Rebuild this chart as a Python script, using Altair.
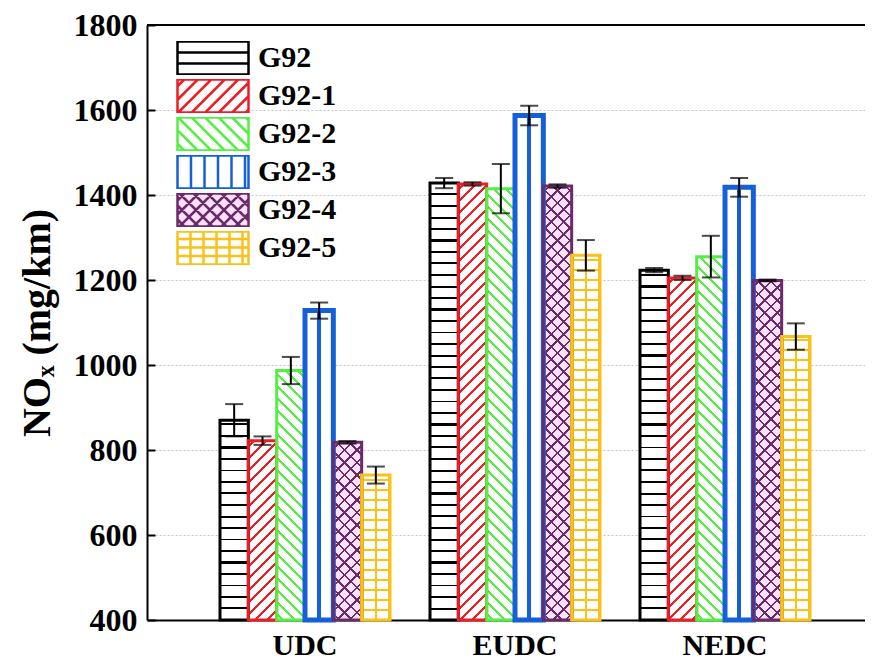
import math
import altair as alt
import pandas as pd

# ---------------- data ----------------
cycles = ["UDC", "EUDC", "NEDC"]
series = ["G92", "G92-1", "G92-2", "G92-3", "G92-4", "G92-5"]
udc_mean = [870, 822, 987, 1128, 818, 741]
udc_err = [38, 10, 32, 19, 3, 20]
eudc_mean = [1428, 1426, 1415, 1587, 1421, 1258]
eudc_err = [12, 4, 58, 23, 4, 36]
nedc_mean = [1223, 1205, 1255, 1418, 1199, 1067]
nedc_err = [5, 5, 49, 22, 2, 31]
y_ticks = [400, 600, 800, 1000, 1200, 1400, 1600, 1800]

means = {"UDC": udc_mean, "EUDC": eudc_mean, "NEDC": nedc_mean}
errs = {"UDC": udc_err, "EUDC": eudc_err, "NEDC": nedc_err}
rows = []
for c in cycles:
    for i, s in enumerate(series):
        m, e = means[c][i], errs[c][i]
        rows.append({"cycle": c, "series": s, "mean": m, "lo": m - e, "hi": m + e})
df = pd.DataFrame(rows)

# ---------------- styles ----------------
colors = ["#000000", "#ee1c25", "#55ee44", "#1560d8", "#6b2b6b", "#f8c21a"]
backs = ["#ffffff", "#ffffff", "#ffffff", "#ffffff", "#fde0fb", "#ffffff"]
outline_w = [3, 3, 3, 5, 3, 3]
CLEAR = "rgba(255,255,255,0)"
FONT = "Liberation Serif"

W, H = 718, 595
Y0, Y1 = 400, 1800
STEP = 210.0
PI = 40.0 / STEP
PO = (W / STEP - (3 - PI)) / 2
ALIGN = 73.0 / (W - STEP * (3 - PI))
BAR_W = STEP * (1 - PI) / 6

# hatch definitions: (kind, spacing px, thickness px, color, background)
bar_hatch = {
    "G92": [("h", 11.5, 2.0, colors[0], backs[0])],
    "G92-1": [("d1", 12.0, 2.2, colors[1], backs[1])],
    "G92-2": [("d2", 12.0, 2.2, colors[2], backs[2])],
    "G92-3": [("v", 14.0, 3.5, colors[3], backs[3])],
    "G92-4": [("d1", 12.5, 1.7, colors[4], backs[4]), ("d2", 12.5, 1.7, colors[4], CLEAR)],
    "G92-5": [("h", 10.0, 2.2, colors[5], backs[5]), ("v", 13.0, 2.2, colors[5], CLEAR)],
}
legend_hatch = {
    "G92": [("h", 11.0)],
    "G92-1": [("d1", 13.5)],
    "G92-2": [("d2", 13.5)],
    "G92-3": [("v", 13.5)],
    "G92-4": [("d1", 14.0), ("d2", 14.0)],
    "G92-5": [("h", 8.5), ("v", 13.0)],
}


def stripe_stops(centers, thick, color, bg):
    raw = [(0.0, bg)]
    for c in sorted(centers):
        a, b = c - thick / 2, c + thick / 2
        if b <= 0 or a >= 1:
            continue
        raw += [(a, bg), (a, color), (b, color), (b, bg)]
    raw.append((1.0, bg))
    out, last = [], 0.0
    for off, col in raw:
        off = max(min(1.0, max(0.0, off)), last)
        off = round(off, 5)
        last = off
        out.append({"offset": off, "color": col})
    return out


def hatch_fill(kind, spacing, thick, color, bg, w, h):
    if kind == "h":
        n = int(h // spacing) + 1
        centers = [(k * spacing) / h for k in range(1, n + 1)]
        return dict(gradient="linear", x1=0, y1=1, x2=0, y2=0,
                    stops=stripe_stops(centers, thick / h, color, bg))
    if kind == "v":
        n = int(w // spacing) + 1
        centers = [(w / 2 + k * spacing) / w for k in range(-n, n + 1)]
        return dict(gradient="linear", x1=0, y1=0, x2=1, y2=0,
                    stops=stripe_stops(centers, thick / w, color, bg))
    c = (1 / h + 1 / w) / (1 / h ** 2 + 1 / w ** 2)
    L = w + h
    n = int(L // spacing) + 1
    centers = [((k + 0.5) * spacing) / L for k in range(n + 1)]
    st = stripe_stops(centers, thick * math.sqrt(2) / L, color, bg)
    if kind == "d1":
        return dict(gradient="linear", x1=0, y1=0, x2=c / h, y2=c / w, stops=st)
    return dict(gradient="linear", x1=0, y1=1, x2=c / h, y2=1 - c / w, stops=st)


LW, LH = 71.0, 33.0
R = LH / LW


def legend_path(hatches):
    f = lambda v: f"{v:.4f}"
    segs = [f"M-1,{f(-R)}L1,{f(-R)}L1,{f(R)}L-1,{f(R)}Z"]
    for kind, sp in hatches:
        s = sp * 2 / LW
        if kind == "h":
            y = R - s
            while y > -R + 0.02:
                segs.append(f"M-1,{f(y)}L1,{f(y)}")
                y -= s
        elif kind == "v":
            x = -1 + s
            while x < 1 - 0.02:
                segs.append(f"M{f(x)},{f(-R)}L{f(x)},{f(R)}")
                x += s
        else:
            cst = -1 - R + s / 2
            while cst < 1 + R:
                xa, xb = max(-1, cst - R), min(1, cst + R)
                if xb - xa > 0.02:
                    if kind == "d1":
                        segs.append(f"M{f(xa)},{f(cst - xa)}L{f(xb)},{f(cst - xb)}")
                    else:
                        segs.append(f"M{f(xa)},{f(xa - cst)}L{f(xb)},{f(xb - cst)}")
                cst += s
    return "".join(segs)


shapes = [legend_path(legend_hatch[s]) for s in series]

# ---------------- encodings ----------------
x_enc = alt.X("cycle:N", sort=cycles,
              scale=alt.Scale(domain=cycles, paddingInner=PI, paddingOuter=PO, align=ALIGN),
              axis=alt.Axis(title=None, labelAngle=0, labelFont=FONT, labelFontSize=30,
                            labelFontWeight="bold", labelColor="#000000", ticks=False,
                            labelPadding=10, domainColor="#000000", domainWidth=2, grid=False))
xo_enc = alt.XOffset("series:N", sort=series,
                     scale=alt.Scale(domain=series, paddingInner=0, paddingOuter=0))
yscale = alt.Scale(domain=[Y0, Y1], zero=False, nice=False)
y_none = alt.Y("mean:Q", scale=yscale, axis=None)
y_main = alt.Y("mean:Q", scale=yscale,
               axis=alt.Axis(orient="left", values=y_ticks, format="d", title="NOₓ (mg/km)",
                             titleFont=FONT, titleFontSize=40, titleFontWeight="bold",
                             titleColor="#000000", titlePadding=16,
                             labelFont=FONT, labelFontSize=32, labelFontWeight="bold",
                             labelColor="#000000", labelPadding=10, ticks=False, tickSize=0,
                             domainColor="#000000", domainWidth=2,
                             grid=True, gridColor="#c4c4c4", gridDash=[2, 2], gridWidth=1))

base = alt.Chart(df)
layers = []

# hatch layers, one per bar (gradients sized to the bar)
for c in cycles:
    for i, s in enumerate(series):
        h = (means[c][i] - Y0) * H / (Y1 - Y0)
        for kind, sp, th, col, bg in bar_hatch[s]:
            grad = hatch_fill(kind, sp, th, col, bg, BAR_W, h)
            layers.append(
                base.transform_filter(f"datum.cycle == '{c}' && datum.series == '{s}'")
                .mark_bar(fill=grad)
                .encode(x=x_enc, xOffset=xo_enc, y=y_none, y2=alt.datum(Y0))
            )

# outlines, one layer per series (first one carries the main y axis)
for i, s in enumerate(series):
    layers.append(
        base.transform_filter(f"datum.series == '{s}'")
        .mark_bar(fillOpacity=0, stroke=colors[i], strokeWidth=outline_w[i], strokeJoin="miter")
        .encode(x=x_enc, xOffset=xo_enc, y=(y_main if i == 0 else y_none), y2=alt.datum(Y0))
    )

# error bars (carry the inward tick axis)
layers.append(
    base.mark_rule(color="#000000", strokeWidth=2)
    .encode(
        x=x_enc, xOffset=xo_enc,
        y=alt.Y("lo:Q", scale=yscale,
                axis=alt.Axis(orient="right", offset=-W, values=y_ticks, labels=False,
                              domain=False, grid=False, ticks=True, tickSize=8, tickWidth=2,
                              tickColor="#000000", title=None)),
        y2="hi:Q",
    )
)
layers.append(base.mark_tick(color="#000000", thickness=2, size=18)
              .encode(x=x_enc, xOffset=xo_enc, y=alt.Y("lo:Q", scale=yscale, axis=None)))
layers.append(base.mark_tick(color="#000000", thickness=2, size=18)
              .encode(x=x_enc, xOffset=xo_enc, y=alt.Y("hi:Q", scale=yscale, axis=None)))

# top frame line
layers.append(
    alt.Chart(pd.DataFrame({"v": [Y1]})).mark_rule(color="#000000", strokeWidth=2)
    .encode(y=alt.Y("v:Q", scale=yscale, axis=None))
)

# legend carrier (no marks drawn)
leg = alt.Legend(title=None, orient="none", legendX=29, legendY=16, symbolSize=LW * LW,
                 symbolStrokeWidth=2.5, labelFont=FONT, labelFontSize=30,
                 labelFontWeight="bold", labelColor="#000000", labelOffset=8,
                 clipHeight=34, rowPadding=4)
layers.append(
    base.transform_filter("false")
    .mark_point(filled=True, opacity=1, strokeWidth=2.5)
    .encode(
        x=x_enc, xOffset=xo_enc, y=y_none,
        fill=alt.Fill("series:N", scale=alt.Scale(domain=series, range=backs), legend=leg),
        stroke=alt.Stroke("series:N", scale=alt.Scale(domain=series, range=colors), legend=leg),
        shape=alt.Shape("series:N", scale=alt.Scale(domain=series, range=shapes), legend=leg),
    )
)

chart = (
    alt.layer(*layers)
    .resolve_axis(y="independent")
    .properties(width=W, height=H,
                padding={"left": 139, "top": 17, "right": 0, "bottom": 44},
                autosize=alt.AutoSizeParams(type="none"))
    .configure_view(strokeWidth=0)
    .configure(font=FONT)
)

chart.save("out.html", embed_options={"renderer": "svg", "actions": False})
